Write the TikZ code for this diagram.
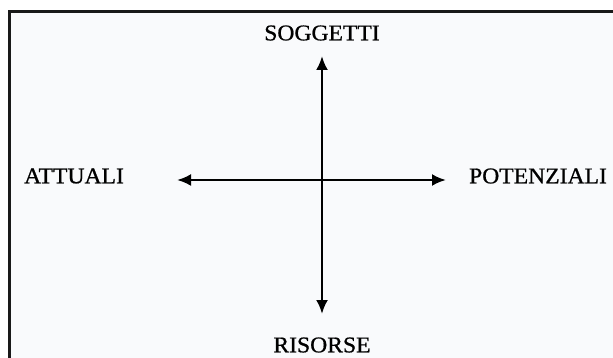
\documentclass[tikz,border=0pt]{standalone}
\usepackage{fontspec}
\setmainfont{Liberation Serif}
\newfontfamily\lblfont[FakeBold=0.8]{Liberation Serif}
\usetikzlibrary{arrows.meta}
\definecolor{framebg}{HTML}{F9FAFC}
\tikzset{
  lbl/.style={inner sep=0pt, font=\lblfont\fontsize{22.5}{24}\selectfont, text=black, xscale=1.05},
  axis/.style={line width=2.6pt, draw=black, {Latex[length=14pt,width=12pt]}-{Latex[length=14pt,width=12pt]}},
  frame/.style={line width=2.2pt, draw=black!90, fill=framebg}
}
\begin{document}
\begin{tikzpicture}[x=1pt,y=-1pt]
\useasboundingbox (0,0) rectangle (613,358);
\fill[white] (0,0) rectangle (613,358);
\draw[frame] (620,365) -- (9.5,365) -- (9.5,11.5) -- (620,11.5);
\node[lbl] (soggetti) at (322,33) {SOGGETTI};
\node[lbl] (risorse) at (322,345) {RISORSE};
\node[lbl] (attuali) at (74,176) {ATTUALI};
\node[lbl] (potenziali) at (538,176) {POTENZIALI};
\coordinate (top) at (322,56);
\coordinate (bottom) at (322,314);
\coordinate (left) at (177,180);
\coordinate (right) at (446,180);
\draw[axis] (top) -- (bottom);
\draw[axis] (left) -- (right);
\end{tikzpicture}
\end{document}
